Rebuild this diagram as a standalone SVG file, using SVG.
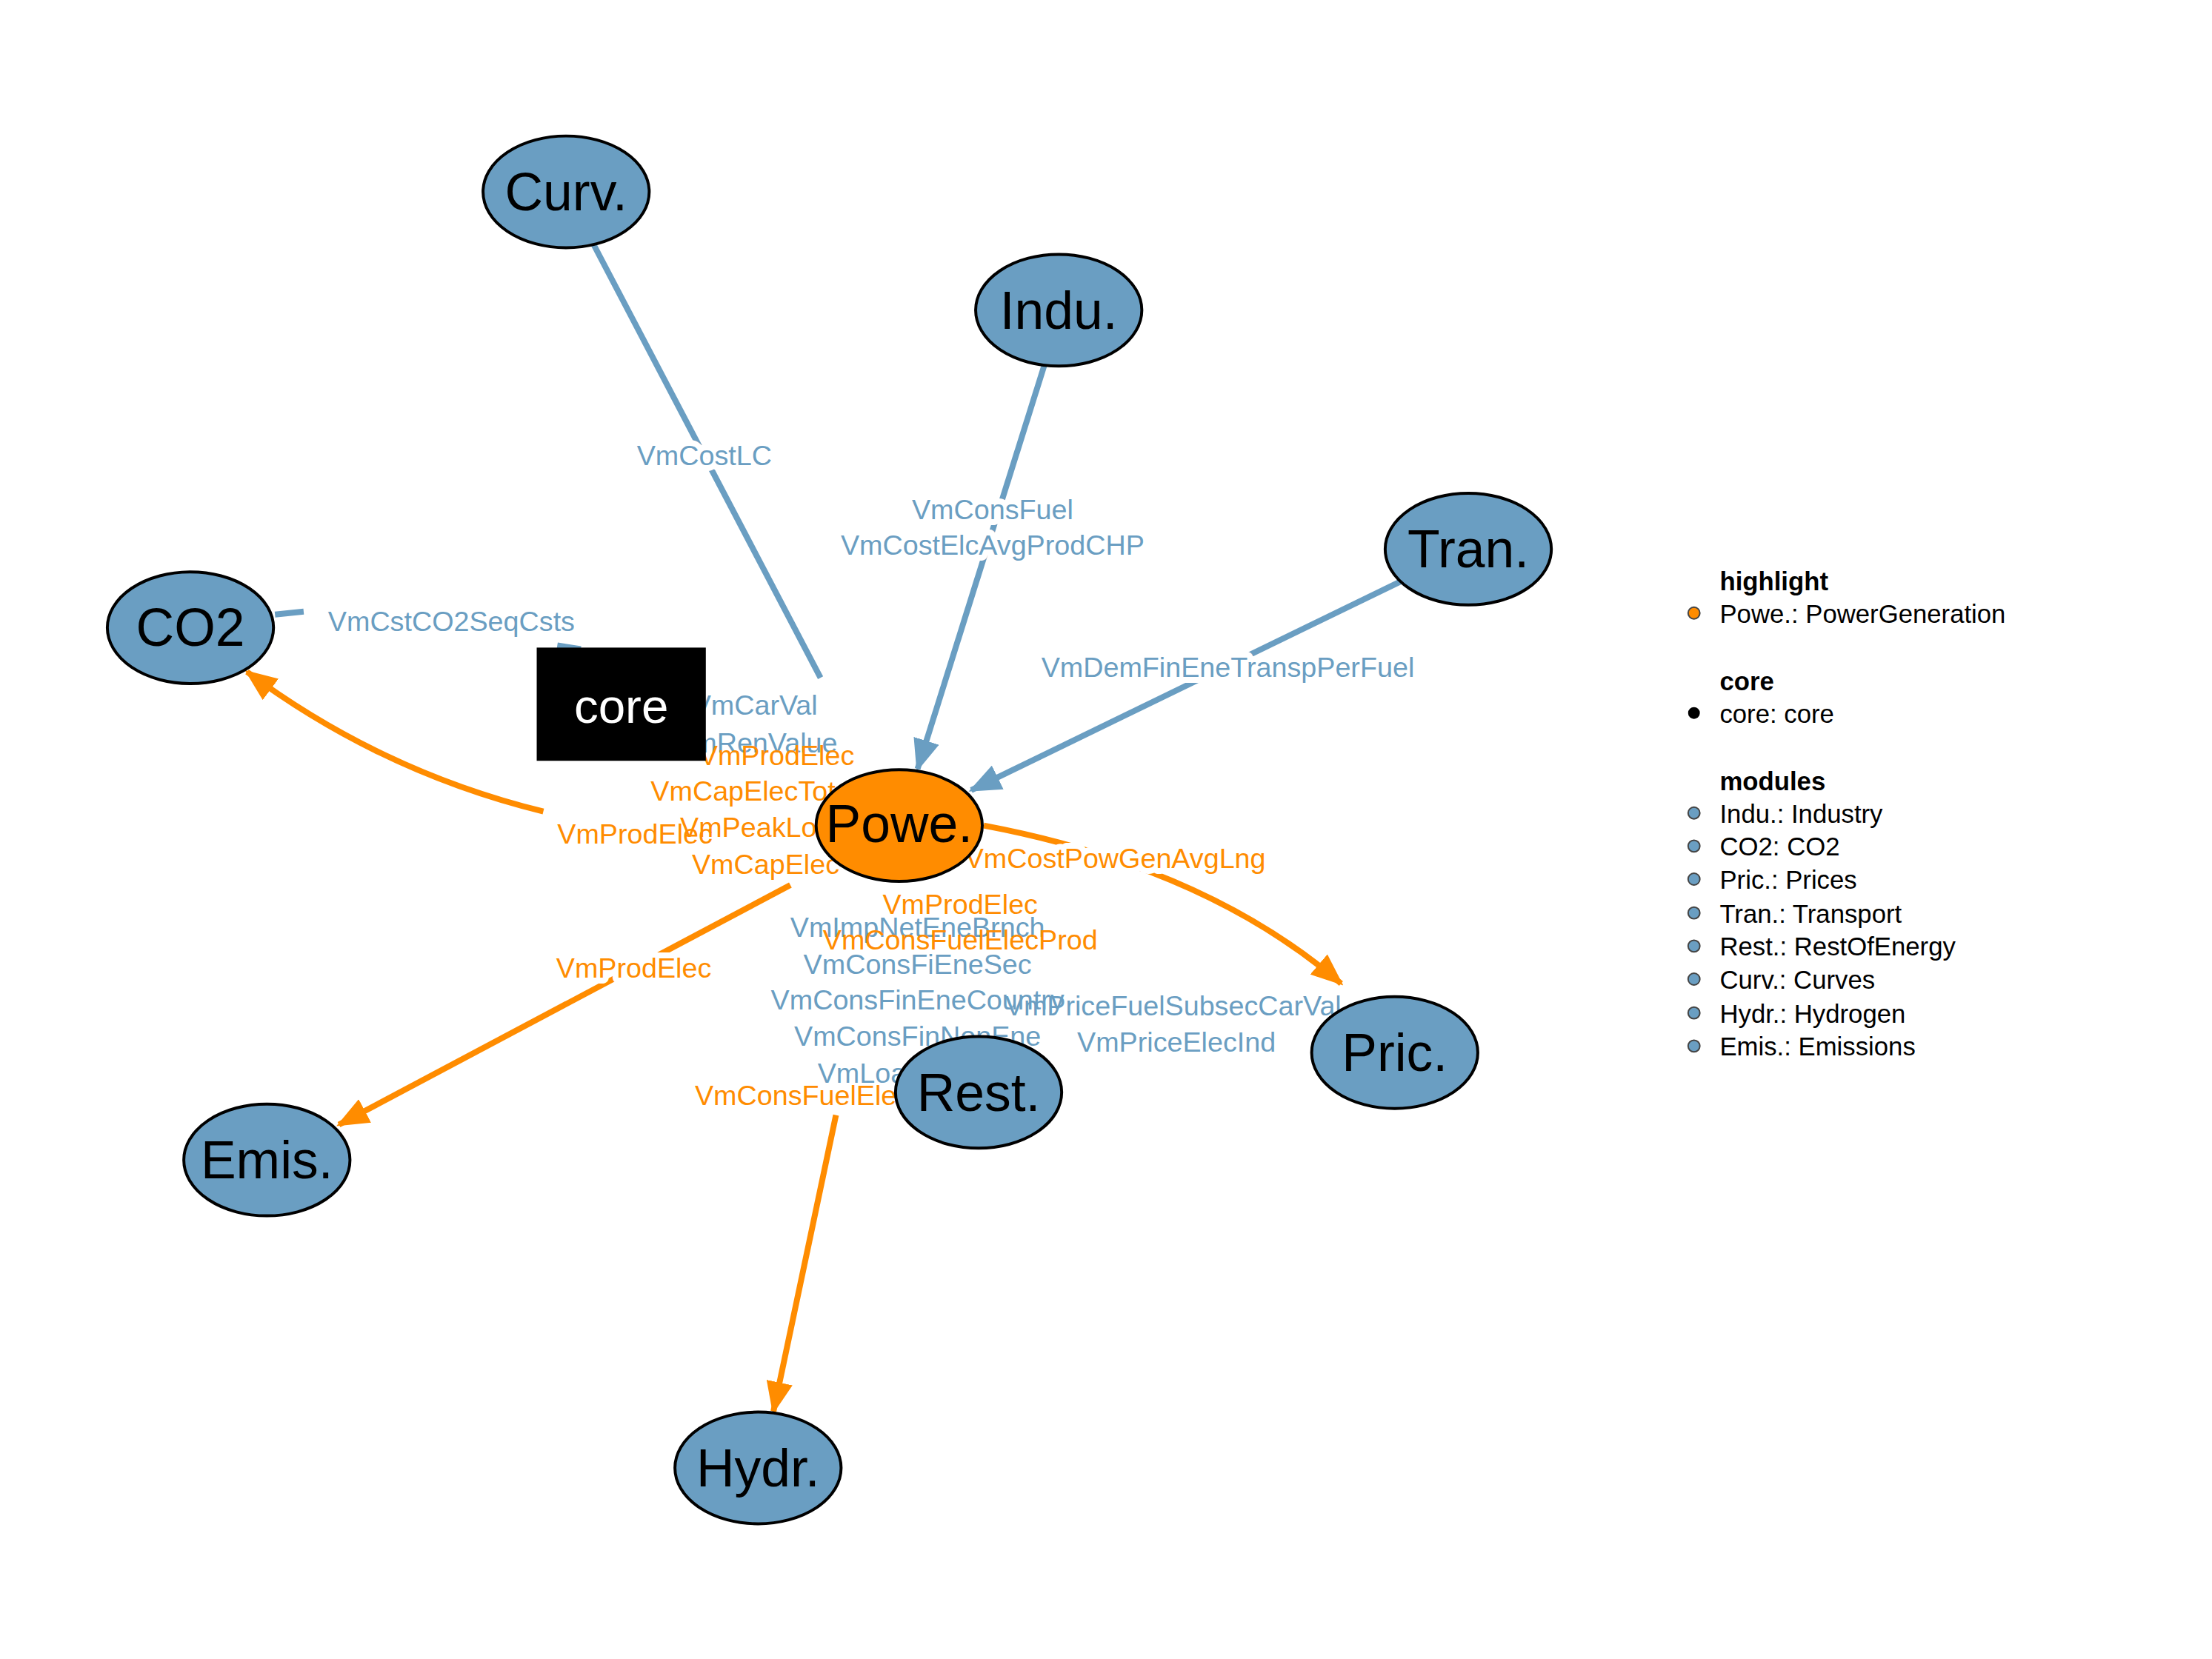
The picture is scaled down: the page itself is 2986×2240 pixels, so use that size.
<svg xmlns="http://www.w3.org/2000/svg" width="2986" height="2240" viewBox="0 0 2986 2240">
<style>
.b{stroke:#6a9ec2;stroke-width:8;fill:none}
.o{stroke:#ff8c00;stroke-width:8;fill:none}
.lb{fill:#6a9ec2;font-family:"Liberation Sans",Arial,sans-serif;font-size:38px}
.lo{fill:#ff8c00;font-family:"Liberation Sans",Arial,sans-serif;font-size:38px}
.h{stroke:#fff;stroke-width:16px;paint-order:stroke;stroke-linejoin:round}
.n{fill:#6a9ec2;stroke:#000;stroke-width:4}
.nt{font-family:"Liberation Sans",Arial,sans-serif;font-size:72px;text-anchor:middle;fill:#000}
.lg{font-family:"Liberation Sans",Arial,sans-serif;font-size:35px;fill:#000}
.lh{font-weight:bold}
</style>
<defs>
<marker id="ab" markerUnits="userSpaceOnUse" markerWidth="44" markerHeight="36" refX="40" refY="18" orient="auto"><path d="M0,0 L44,18 L0,36 Z" fill="#6a9ec2"/></marker>
<marker id="ao" markerUnits="userSpaceOnUse" markerWidth="44" markerHeight="36" refX="40" refY="18" orient="auto"><path d="M0,0 L44,18 L0,36 Z" fill="#ff8c00"/></marker>
</defs>
<rect width="2986" height="2240" fill="#fff"/>
<g transform="scale(0.9925)">
<g id="edges">
<path class="b" d="M806,330 L1116,922"/>
<path class="b" d="M1421,495 L1248,1046" stroke-width="12" marker-end="url(#ab)"/>
<path class="b" d="M1905,791 L1321,1075" marker-end="url(#ab)"/>
<path class="b" d="M374,836 L413,832"/>
<path class="b" d="M758,878 L790,883"/>
<path class="o" d="M739,1104 Q519,1050 336,914" marker-end="url(#ao)"/>
<path class="o" d="M1338,1123 Q1640,1180 1824,1338" marker-end="url(#ao)"/>
<path class="o" d="M1075,1204 L461,1530" marker-end="url(#ao)"/>
<path class="o" d="M1137,1517 L1052,1920" marker-end="url(#ao)"/>
<text class="lb h" x="958" y="633" text-anchor="middle">VmCostLC</text>
<text class="lb h" x="1350" y="706" text-anchor="middle">VmConsFuel</text>
<text class="lb h" x="1350" y="755" text-anchor="middle">VmCostElcAvgProdCHP</text>
<text class="lb h" x="1670" y="921" text-anchor="middle">VmDemFinEneTranspPerFuel</text>
<text class="lb" x="614" y="858" text-anchor="middle">VmCstCO2SeqCsts</text>
<text class="lo h" x="862" y="1330" text-anchor="middle">VmProdElec</text>
<text class="lo h" x="1517" y="1181" text-anchor="middle">VmCostPowGenAvgLng</text>
<text class="lb" x="1112" y="972" text-anchor="end">VmCarVal</text>
<text class="lb" x="1139" y="1024" text-anchor="end">VmRenValue</text>
<text class="lo" x="1162" y="1041" text-anchor="end">VmProdElec</text>
<text class="lo" x="885" y="1089">VmCapElecTot</text>
<text class="lo" x="758" y="1148">VmProdElec</text>
<text class="lo" x="925" y="1139">VmPeakLoad</text>
<text class="lo" x="941" y="1189">VmCapElec</text>
<text class="lo" x="1306" y="1243" text-anchor="middle">VmProdElec</text>
<text class="lb" x="1248" y="1275" text-anchor="middle">VmImpNetEneBrnch</text>
<text class="lo" x="1306" y="1292" text-anchor="middle">VmConsFuelElecProd</text>
<text class="lb" x="1248" y="1325" text-anchor="middle">VmConsFiEneSec</text>
<text class="lb" x="1248" y="1373" text-anchor="middle">VmConsFinEneCountry</text>
<text class="lb" x="1367" y="1381">VmPriceFuelSubsecCarVal</text>
<text class="lb" x="1248" y="1423" text-anchor="middle">VmConsFinNonEne</text>
<text class="lb" x="1465" y="1431">VmPriceElecInd</text>
<text class="lb" x="1112" y="1473">VmLoad</text>
<text class="lo" x="945" y="1503">VmConsFuelElecProd</text>
</g>
<g id="core"><rect x="730" y="881" width="230" height="154" fill="#000"/><text x="845" y="983" font-family="Liberation Sans,Arial,sans-serif" font-size="66" fill="#fff" text-anchor="middle">core</text></g>
<g id="Curv"><ellipse class="n" cx="770" cy="261" rx="113" ry="76"/><text class="nt" x="770" y="286">Curv.</text></g>
<g id="Indu"><ellipse class="n" cx="1440" cy="422" rx="113" ry="76"/><text class="nt" x="1440" y="447">Indu.</text></g>
<g id="Tran"><ellipse class="n" cx="1997" cy="747" rx="113" ry="76"/><text class="nt" x="1997" y="772">Tran.</text></g>
<g id="CO2"><ellipse class="n" cx="259" cy="854" rx="113" ry="76"/><text class="nt" x="259" y="879">CO2</text></g>
<g id="Powe"><ellipse cx="1223" cy="1123" rx="113" ry="76" fill="#ff8c00" stroke="#000" stroke-width="4"/><text class="nt" x="1223" y="1146" font-size="64">Powe.</text></g>
<g id="Pric"><ellipse class="n" cx="1897" cy="1432" rx="113" ry="76"/><text class="nt" x="1897" y="1457">Pric.</text></g>
<g id="Rest"><ellipse class="n" cx="1331" cy="1486" rx="113" ry="76"/><text class="nt" x="1331" y="1511">Rest.</text></g>
<g id="Emis"><ellipse class="n" cx="363" cy="1578" rx="113" ry="76"/><text class="nt" x="363" y="1603">Emis.</text></g>
<g id="Hydr"><ellipse class="n" cx="1031" cy="1997" rx="113" ry="76"/><text class="nt" x="1031" y="2022">Hydr.</text></g>
<g id="legend">
<text class="lg lh" x="2339" y="803">highlight</text>
<circle cx="2304" cy="834" r="8" fill="#ff8c00" stroke="#444" stroke-width="2"/><text class="lg" x="2339" y="847">Powe.: PowerGeneration</text>
<text class="lg lh" x="2339" y="939">core</text>
<circle cx="2304" cy="970" r="8" fill="#000"/><text class="lg" x="2339" y="983">core: core</text>
<text class="lg lh" x="2339" y="1075">modules</text>
<g fill="#6a9ec2" stroke="#444" stroke-width="2">
<circle cx="2304" cy="1106" r="8"/><circle cx="2304" cy="1151" r="8"/><circle cx="2304" cy="1196" r="8"/><circle cx="2304" cy="1242" r="8"/><circle cx="2304" cy="1287" r="8"/><circle cx="2304" cy="1332" r="8"/><circle cx="2304" cy="1378" r="8"/><circle cx="2304" cy="1423" r="8"/>
</g>
<text class="lg" x="2339" y="1119">Indu.: Industry</text>
<text class="lg" x="2339" y="1164">CO2: CO2</text>
<text class="lg" x="2339" y="1209">Pric.: Prices</text>
<text class="lg" x="2339" y="1255">Tran.: Transport</text>
<text class="lg" x="2339" y="1300">Rest.: RestOfEnergy</text>
<text class="lg" x="2339" y="1345">Curv.: Curves</text>
<text class="lg" x="2339" y="1391">Hydr.: Hydrogen</text>
<text class="lg" x="2339" y="1436">Emis.: Emissions</text>
</g>
</g>
</svg>
